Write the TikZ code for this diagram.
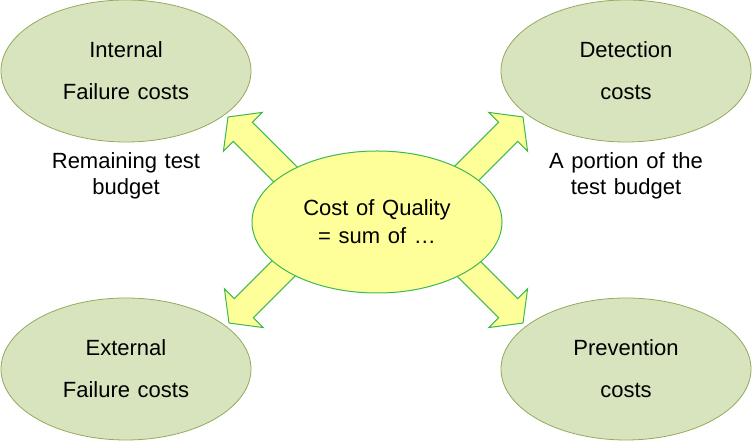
\documentclass[tikz,border=0pt]{standalone}
\usepackage{fontspec}
\setmainfont[WordSpace={1.25}]{Liberation Sans}
\usetikzlibrary{shapes.geometric}
\definecolor{outerfill}{RGB}{215,228,189}
\definecolor{outerline}{RGB}{150,170,95}
\definecolor{yel}{RGB}{255,255,153}
\definecolor{grn}{RGB}{60,185,80}
\tikzset{
  outer/.style={ellipse, draw=outerline, fill=outerfill, line width=0.8pt,
    minimum width=250pt, minimum height=142pt, inner sep=0pt, align=center,
    font=\fontsize{22}{42}\selectfont},
  centre/.style={ellipse, draw=grn, fill=yel, line width=1pt,
    minimum width=250pt, minimum height=142pt, inner sep=0pt, align=center,
    font=\fontsize{22}{28}\selectfont},
  lbl/.style={align=center, inner sep=0pt, font=\fontsize{22}{26}\selectfont},
  blockarrow/.pic={
    \filldraw[fill=yel, draw=grn, line width=1pt, line join=miter]
      (0,0) -- (-21,27.5) -- (-21,13.5) -- (-135,13.5) -- (-135,-13.5)
      -- (-21,-13.5) -- (-21,-27.5) -- cycle;
  }
}
\begin{document}
\begin{tikzpicture}[x=1pt,y=1pt]
\useasboundingbox (0,0) rectangle (753,441);
\node[outer] (internal) at (126,370) {Internal\\Failure costs};
\node[outer] (detection) at (626,370) {Detection\\costs};
\node[outer] (external) at (126,72) {External\\Failure costs};
\node[outer] (prevention) at (626,72) {Prevention\\costs};
\node[lbl] (remaining) at (126,265) {Remaining test\\budget};
\node[lbl] (portion) at (626,265) {A portion of the\\test budget};
\coordinate (tipUL) at (228,324);
\coordinate (tipUR) at (523,324);
\coordinate (tipLL) at (229,118);
\coordinate (tipLR) at (523,118);
\pic[rotate=135] at (tipUL) {blockarrow};
\pic[rotate=45] at (tipUR) {blockarrow};
\pic[rotate=225] at (tipLL) {blockarrow};
\pic[rotate=315] at (tipLR) {blockarrow};
\node[centre] (coq) at (377,219) {Cost of Quality\\= sum of …};
\end{tikzpicture}
\end{document}
